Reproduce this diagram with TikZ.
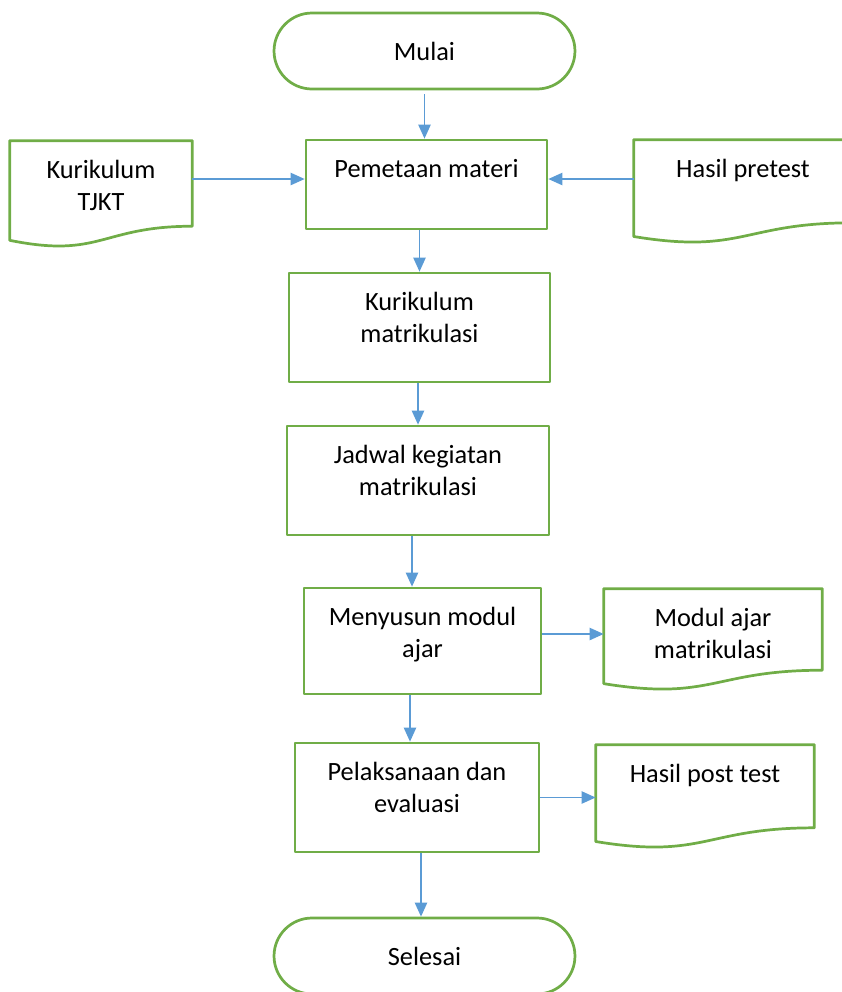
\documentclass[tikz,border=0pt]{standalone}
\usepackage{fontspec}
\setmainfont{Carlito}
\usetikzlibrary{arrows.meta,calc,shapes.misc}
\definecolor{boxgreen}{HTML}{70AD47}
\definecolor{flowblue}{HTML}{5B9BD5}
\newcommand{\docoutline}[1]{%
  \draw[boxline] (#1.north west) -- (#1.north east)
    -- ($(#1.north east)!0.802!(#1.south east)$)
    .. controls ($(#1.north)!0.802!(#1.south)$) and ($(#1.north)!1.1075!(#1.south)$)
    .. ($(#1.north west)!0.934!(#1.south west)$) -- cycle;}

\begin{document}
\begin{tikzpicture}[x=0.02cm,y=-0.02cm,
    boxline/.style={draw=boxgreen,line width=1.55pt,line join=round},
    txt/.style={font=\fontsize{15pt}{18.7pt}\selectfont,align=center,inner sep=0pt,text height=0.74cm},
    twoline/.style={text height=1.397cm},
    proc/.style={txt,boxline},
    doc/.style={txt,minimum width=4.36cm},
    term/.style={boxline,rounded rectangle,minimum width=6.02cm,minimum height=1.52cm,inner sep=0pt,
      font=\fontsize{15pt}{18.7pt}\selectfont},
    flow/.style={draw=flowblue,line width=0.9pt,-{Triangle[length=8pt,width=7pt]}}]
        \clip (0,0) rectangle (842,992);
        \node[term] (mulai) at (424.5,51) {Mulai};
        \node[proc,minimum width=4.82cm,text depth=1.04cm] (pemetaan) at (426.5,184.5) {Pemetaan materi};
        \node[txt,twoline,minimum width=3.64cm,text depth=0.723cm] (kurtjkt) at (101,194) {Kurikulum\\TJKT};
        \node[doc,text depth=1.32cm] (pretest) at (743,191.5) {Hasil pretest};
        \node[proc,twoline,minimum width=5.22cm,text depth=0.783cm] (kurmat) at (419.5,327.5) {Kurikulum\\matrikulasi};
        \node[proc,twoline,minimum width=5.24cm,text depth=0.783cm] (jadwal) at (418,480.5) {Jadwal kegiatan\\matrikulasi};
        \node[proc,twoline,minimum width=4.74cm,text depth=0.723cm] (menyusun) at (422.5,641) {Menyusun modul\\ajar};
        \node[doc,twoline,text depth=0.623cm] (modul) at (713,639.5) {Modul ajar\\matrikulasi};
        \node[proc,twoline,minimum width=4.88cm,text depth=0.783cm] (pelaksanaan) at (417,797.5) {Pelaksanaan dan\\evaluasi};
        \node[doc,text depth=1.32cm] (posttest) at (705,796.5) {Hasil post test};
        \node[term] (selesai) at (424.5,956) {Selesai};
        \docoutline{kurtjkt}
        \docoutline{pretest}
        \docoutline{modul}
        \docoutline{posttest}
        \draw[flow] ([yshift=-0.08cm]mulai.south) -- (mulai.south |- pemetaan.north);
        \draw[flow] (kurtjkt.east |- 0,179) -- (pemetaan.west |- 0,179);
        \draw[flow] (pretest.west |- 0,179) -- (pemetaan.east |- 0,179);
        \draw[flow] (pemetaan.south -| kurmat.north) -- (kurmat.north);
        \draw[flow] (kurmat.south -| jadwal.north) -- (jadwal.north);
        \draw[flow] ([xshift=-0.12cm]jadwal.south) -- ([xshift=-0.12cm]jadwal.south |- menyusun.north);
        \draw[flow] ([xshift=-0.14cm]pelaksanaan.north |- menyusun.south) -- ([xshift=-0.14cm]pelaksanaan.north);
        \draw[flow] ([yshift=0.14cm]menyusun.east) -- ([yshift=0.14cm]menyusun.east -| modul.west);
        \draw[flow] (pelaksanaan.east) -- (pelaksanaan.east -| posttest.west);
        \draw[flow] ([xshift=0.08cm]pelaksanaan.south) -- ([xshift=0.08cm]pelaksanaan.south |- selesai.north);
        \end{tikzpicture}
\end{document}
